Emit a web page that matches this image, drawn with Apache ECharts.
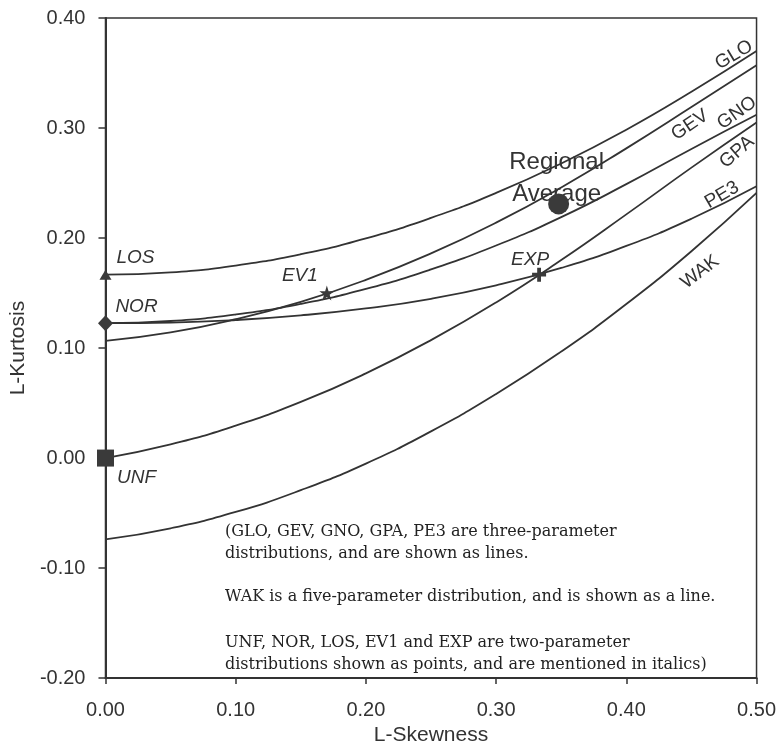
<!DOCTYPE html>
<html>
<head>
<meta charset="utf-8">
<title>L-moment ratio diagram</title>
<script src="https://cdn.jsdelivr.net/npm/echarts/dist/echarts.min.js"></script>
<style>
  html, body { margin: 0; padding: 0; background: #fff; }
  #chart { width: 779px; height: 751px; }
</style>
</head>
<body>
<div id="chart"></div>
<script>
const skewSteps = [0, 0.05, 0.10, 0.15, 0.20, 0.25, 0.30, 0.35, 0.40, 0.45, 0.50];

// L-kurtosis of each three-parameter curve (and WAK) at skewSteps
const gloKurt = [0.1667, 0.1688, 0.1750, 0.1853, 0.1997, 0.2183, 0.2410, 0.2678, 0.2985, 0.3330, 0.3700];
const gevKurt = [0.1065, 0.1142, 0.1262, 0.1420, 0.1620, 0.1860, 0.2140, 0.2460, 0.2815, 0.3190, 0.3570];
const gnoKurt = [0.1226, 0.1246, 0.1305, 0.1402, 0.1538, 0.1715, 0.1932, 0.2190, 0.2490, 0.2810, 0.3120];
const gpaKurt = [0.0000, 0.0124, 0.0295, 0.0510, 0.0770, 0.1072, 0.1415, 0.1800, 0.2215, 0.2640, 0.3050];
const pe3Kurt = [0.1226, 0.1232, 0.1255, 0.1297, 0.1360, 0.1448, 0.1570, 0.1728, 0.1928, 0.2175, 0.2470];
const wakKurt = [-0.0740, -0.0638, -0.0490, -0.0292, -0.0050, 0.0243, 0.0582, 0.0968, 0.1400, 0.1880, 0.2410];

// two-parameter distributions (points)
const pointNames = ['UNF', 'NOR', 'LOS', 'EV1', 'EXP'];
const pointSkew = [0, 0, 0, 0.170, 0.333];
const pointKurt = [0, 0.1226, 0.1667, 0.1500, 0.1667];

// regional average
const regionalSkew = 0.348;
const regionalKurt = 0.231;

// axis ticks
const skewTicks = [0, 0.5, 0.1];      // min, max, interval
const kurtTicks = [-0.2, 0.4, 0.1];

const ink = '#333';
const sans = 'Liberation Sans, Arial, Helvetica, sans-serif';

// marker look for each point, keyed by name
const pointLook = {
  UNF: { symbol: 'rect', size: 17, offset: [31, 20] },
  NOR: { symbol: 'diamond', size: [15, 16], offset: [31, -16] },
  LOS: { symbol: 'triangle', size: [12, 10], offset: [30, -17] },
  EV1: { symbol: 'path://M50,0 L61,35 L98,35 L68,57 L79,92 L50,70 L21,92 L32,57 L2,35 L39,35 Z', size: 15, offset: [-27, -17] },
  EXP: { symbol: 'path://M4,0 H7 V4 H11 V7 H7 V11 H4 V7 H0 V4 H4 Z', size: 14, offset: [-9, -15] }
};

function curve(name, values) {
  return {
    name: name,
    type: 'line',
    smooth: true,
    symbol: 'none',
    lineStyle: { color: ink, width: 1.8 },
    data: skewSteps.map((s, i) => [s, values[i]]),
    z: 2
  };
}

// rotated curve names, placed by pixel
const curveNames = [
  { text: 'GLO', x: 734, y: 55, angle: 31 },
  { text: 'GEV', x: 690, y: 125, angle: 34 },
  { text: 'GNO', x: 737, y: 113, angle: 35 },
  { text: 'GPA', x: 737, y: 152, angle: 41 },
  { text: 'PE3', x: 722, y: 195, angle: 30 },
  { text: 'WAK', x: 700, y: 272, angle: 37 }
];

const notes = [
  { top: 521, text: '(GLO, GEV, GNO, GPA, PE3 are three-parameter\ndistributions, and are shown as lines.' },
  { top: 586, text: 'WAK is a five-parameter distribution, and is shown as a line.' },
  { top: 632, text: 'UNF, NOR, LOS, EV1 and EXP are two-parameter\ndistributions shown as points, and are mentioned in italics)' }
];

const graphics = curveNames.map(c => ({
  type: 'text',
  x: c.x,
  y: c.y,
  rotation: c.angle * Math.PI / 180,
  style: { text: c.text, fill: ink, fontSize: 19, fontFamily: sans, align: 'center', verticalAlign: 'middle' },
  z: 10
})).concat(notes.map(n => ({
  type: 'text',
  left: 225,
  top: n.top,
  style: { text: n.text, fill: '#222', fontSize: 16, fontFamily: 'DejaVu Serif, serif', lineHeight: 22 },
  z: 10
})));

const option = {
  backgroundColor: '#fff',
  animation: false,
  grid: {
    left: 105, right: 22, top: 18, bottom: 72,
    show: true, borderColor: ink, borderWidth: 1.5, backgroundColor: 'transparent'
  },
  xAxis: {
    type: 'value',
    min: skewTicks[0], max: skewTicks[1], interval: skewTicks[2],
    name: 'L-Skewness',
    nameLocation: 'middle',
    nameGap: 42,
    nameTextStyle: { color: ink, fontSize: 21, fontFamily: sans },
    axisLine: { onZero: false, lineStyle: { color: ink, width: 2 } },
    axisTick: { show: true, length: 6, lineStyle: { color: ink, width: 1.5 } },
    axisLabel: { color: ink, fontSize: 20, fontFamily: sans, margin: 22, formatter: v => v.toFixed(2) },
    splitLine: { show: false }
  },
  yAxis: {
    type: 'value',
    min: kurtTicks[0], max: kurtTicks[1], interval: kurtTicks[2],
    name: 'L-Kurtosis',
    nameLocation: 'middle',
    nameGap: 76,
    nameTextStyle: { color: ink, fontSize: 21, fontFamily: sans },
    axisLine: { onZero: false, lineStyle: { color: ink, width: 2 } },
    axisTick: { show: true, length: 7, lineStyle: { color: ink, width: 1.5 } },
    axisLabel: { color: ink, fontSize: 20, fontFamily: sans, margin: 20, formatter: v => v.toFixed(2) },
    splitLine: { show: false }
  },
  series: [
    curve('GLO', gloKurt),
    curve('GEV', gevKurt),
    curve('GNO', gnoKurt),
    curve('GPA', gpaKurt),
    curve('PE3', pe3Kurt),
    curve('WAK', wakKurt),
    {
      name: 'points',
      type: 'scatter',
      z: 4,
      data: pointNames.map((n, i) => ({
        name: n,
        value: [pointSkew[i], pointKurt[i]],
        symbol: pointLook[n].symbol,
        symbolSize: pointLook[n].size,
        label: { offset: pointLook[n].offset }
      })),
      itemStyle: { color: '#3a3a3a', opacity: 1 },
      label: {
        show: true, position: 'inside', formatter: p => p.name,
        color: ink, fontSize: 19, fontStyle: 'italic', fontFamily: sans
      }
    },
    {
      // text for the regional average, drawn under the dot
      name: 'regional text',
      type: 'scatter',
      z: 3,
      symbolSize: 1,
      itemStyle: { color: 'transparent', opacity: 1 },
      data: [[regionalSkew, regionalKurt]],
      label: {
        show: true, position: 'inside', offset: [-2, -26],
        formatter: 'Regional\nAverage', lineHeight: 32,
        color: ink, fontSize: 24, fontFamily: sans
      }
    },
    {
      name: 'Regional Average',
      type: 'scatter',
      z: 6,
      symbol: 'circle',
      symbolSize: 21,
      itemStyle: { color: '#3a3a3a', opacity: 1 },
      data: [[regionalSkew, regionalKurt]]
    }
  ],
  graphic: graphics
};

let myChart = echarts.init(document.getElementById('chart'));
myChart.setOption(option);
window.onresize = function () {
  myChart.resize();
};
</script>
</body>
</html>
